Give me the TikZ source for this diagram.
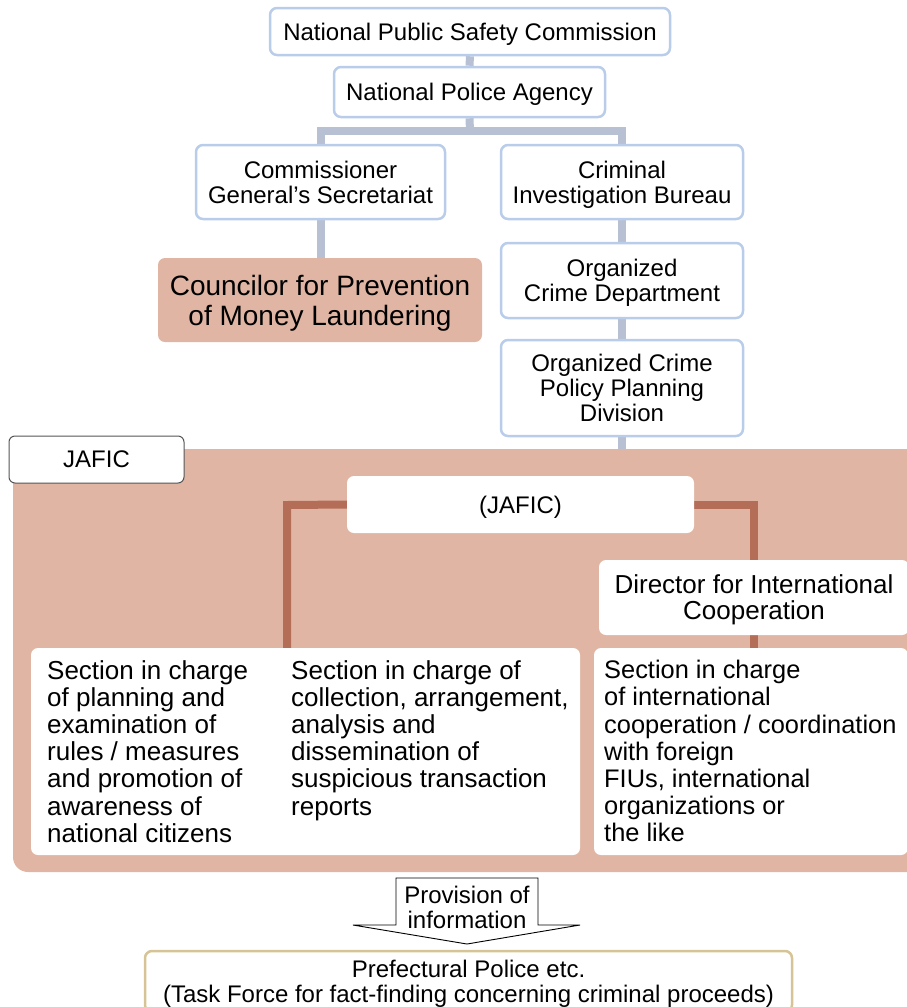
\documentclass[tikz,border=0pt]{standalone}
\usepackage{fontspec}
\setmainfont{Liberation Sans}
\definecolor{boxblue}{HTML}{B9CCE9}
\definecolor{connblue}{HTML}{B8C1D3}
\definecolor{salmon}{HTML}{E0B5A3}
\definecolor{brownc}{HTML}{B46E58}
\definecolor{tanc}{HTML}{D6C496}
\definecolor{labelgray}{HTML}{555555}
\pgfdeclarelayer{bg}
\pgfdeclarelayer{mid}
\pgfsetlayers{bg,mid,main}
\tikzset{
  bluebox/.style={draw=boxblue, line width=2.5pt, rounded corners=7pt, fill=white,
    align=center, inner sep=0pt, text depth=0pt, font=\fontsize{24}{25}\selectfont},
  whitebox/.style={fill=white, rounded corners=7pt, inner sep=0pt, align=center, text depth=0pt},
  conn/.style={draw=connblue, line width=8pt, line join=miter},
  brownconn/.style={draw=brownc, line width=8pt, line join=miter},
  sectext/.style={anchor=north west, inner sep=0pt, align=left,
    font=\fontsize{26}{27.2}\selectfont},
}
\begin{document}
\begin{tikzpicture}[x=1pt,y=-1pt]
\clip (0,0) rectangle (907,1007);
% top hierarchy
\node[bluebox, minimum width=400, minimum height=47] (nps) at (470,31.5) {National Public Safety Commission};
\node[bluebox, minimum width=271, minimum height=50] (npa) at (469.5,92) {National Police Agency};
\node[bluebox, minimum width=249, minimum height=74] (cgs) at (320.5,182) {Commissioner\\General's Secretariat};
\node[bluebox, minimum width=242, minimum height=74] (cib) at (622,182) {Criminal\\Investigation Bureau};
\node[whitebox, fill=salmon, minimum width=324, minimum height=84,
  font=\fontsize{28}{30}\selectfont] (cpml) at (320,300) {Councilor for Prevention\\of Money Laundering};
\node[bluebox, minimum width=242, minimum height=75] (ocd) at (622,280.5) {Organized\\Crime Department};
\node[bluebox, minimum width=242, minimum height=96] (ocppd) at (622,388) {Organized Crime\\Policy Planning\\Division};
% JAFIC
\node[whitebox, draw=labelgray, line width=1pt, rounded corners=6pt, minimum width=175, minimum height=47,
  font=\fontsize{24}{25}\selectfont] (jlabel) at (96.5,459.5) {JAFIC};
\node[whitebox, minimum width=347, minimum height=57, font=\fontsize{24}{25}\selectfont] (jaf) at (520.5,504.5) {(JAFIC)};
\node[whitebox, minimum width=310, minimum height=75, font=\fontsize{26}{26}\selectfont] (dir) at (754,597.5) {Director for International\\Cooperation};
\node[whitebox, minimum width=549, minimum height=207] (secL) at (305.5,751.5) {};
\node[whitebox, minimum width=314, minimum height=207] (secR) at (751,751.5) {};
\node[sectext] (t1) at (47,660) {Section in charge\\of planning and\\examination of\\rules / measures\\and promotion of\\awareness of\\national citizens};
\node[sectext] (t2) at (291,660) {Section in charge of\\collection, arrangement,\\analysis and\\dissemination of\\suspicious transaction\\reports};
\node[sectext, font=\fontsize{25.4}{27.2}\selectfont] (t3) at (604,660) {Section in charge\\of international\\cooperation / coordination\\with foreign\\FIUs, international\\organizations or\\the like};
% provision arrow
\draw[line width=0.9pt, fill=white] (396,878) -- (538,878) -- (538,925) -- (580,925) -- (467,944)
  -- (353,925) -- (396,925) -- cycle;
\node[inner sep=0pt, align=center, text depth=0pt, font=\fontsize{24}{25}\selectfont] (prov) at (467,907.5) {Provision of\\information};
\node[bluebox, draw=tanc, minimum width=647, minimum height=61] (pref) at (468.5,981.5) {Prefectural Police etc.\\(Task Force for fact-finding concerning criminal proceeds)};
% connectors
\coordinate (bar) at (470,131);
\coordinate (bl) at (287,505);
\begin{pgfonlayer}{bg}
\draw[conn] (nps.south) -- (npa.north);
\draw[conn] (npa.south) -- (bar);
\draw[conn] (cgs.north) -- (cgs.north |- bar) -- (cib.north |- bar) -- (cib.north);
\draw[conn] (cgs.south) -- (cgs.south |- cpml.north);
\draw[conn] (cib.south) -- (ocd.north);
\draw[conn] (ocd.south) -- (ocppd.north);
\draw[conn] (ocppd.south) -- ++(0,25);
\node[fill=salmon, rounded corners=15pt, inner sep=0pt, minimum width=912, minimum height=423] (area) at (469,660.5) {};
\end{pgfonlayer}
\begin{pgfonlayer}{mid}
\draw[brownconn] (jaf.west) -- (bl) -- (bl |- secL.north);
\draw[brownconn] (jaf.east) -- (jaf.east -| dir.north) -- (dir.north);
\draw[brownconn] (dir.south) -- (dir.south |- secR.north);
\end{pgfonlayer}
\end{tikzpicture}
\end{document}
